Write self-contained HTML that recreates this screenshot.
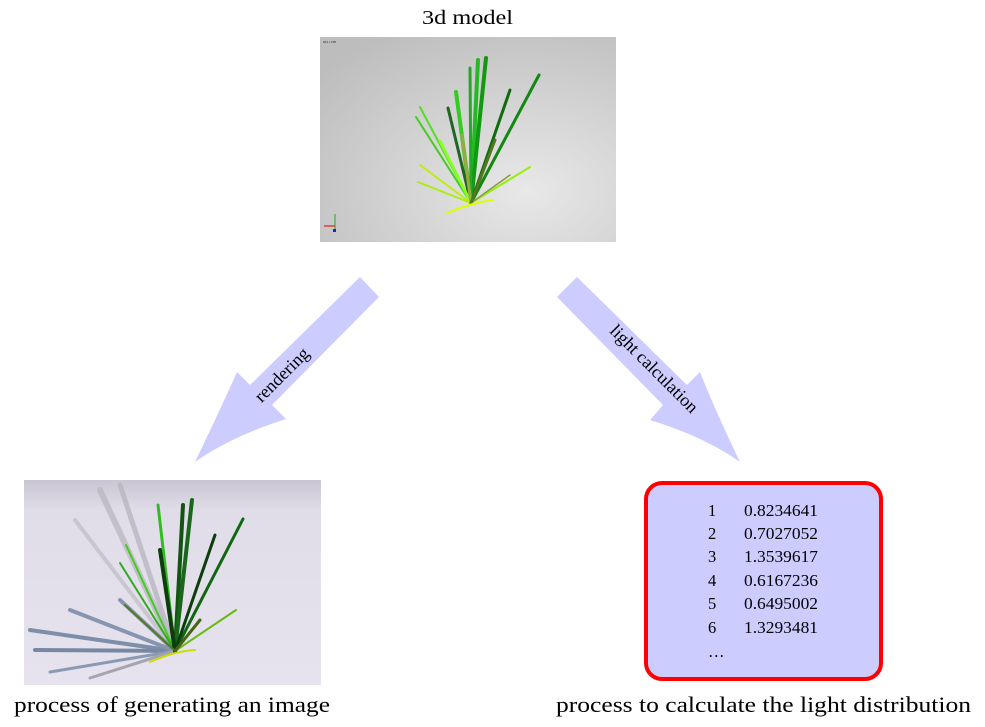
<!DOCTYPE html>
<html><head><meta charset="utf-8"><style>
html,body{margin:0;padding:0;background:#fff;}
svg{display:block;font-family:"Liberation Serif",serif;}
</style></head><body>
<svg width="985" height="727" viewBox="0 0 985 727" xmlns="http://www.w3.org/2000/svg">
<defs>
<radialGradient id="g1" cx="0.7" cy="0.75" r="0.9">
<stop offset="0" stop-color="#e8e8e8"/><stop offset="1" stop-color="#bdbdbd"/></radialGradient>
<linearGradient id="g2" x1="0" y1="0" x2="0" y2="1">
<stop offset="0" stop-color="#c9c6d3"/><stop offset="0.15" stop-color="#e0dde8"/><stop offset="1" stop-color="#e6e3ef"/></linearGradient>
</defs>
<text x="422" y="24" font-size="20" textLength="91" lengthAdjust="spacingAndGlyphs">3d model</text>
<!-- 3d model image -->
<rect x="320" y="37" width="296" height="205" fill="url(#g1)"/>
<text x="323" y="43" font-size="3" fill="#333" font-family="Liberation Sans">963 x 685</text>
<g stroke-linecap="round" fill="none">
<path d="M471 203 L456 92" stroke="#33cc22" stroke-width="4"/>
<path d="M471 203 L478 60" stroke="#22bb22" stroke-width="4"/>
<path d="M471 203 L486 58" stroke="#119911" stroke-width="4"/>
<path d="M471 203 L470 68" stroke="#22aa22" stroke-width="3"/>
<path d="M471 203 L539 75" stroke="#118811" stroke-width="3"/>
<path d="M471 203 L510 90" stroke="#0d6d0d" stroke-width="3"/>
<path d="M471 203 L420 107" stroke="#55dd22" stroke-width="2"/>
<path d="M471 203 L416 117" stroke="#44cc22" stroke-width="2"/>
<path d="M471 203 L448 108" stroke="#226622" stroke-width="3"/>
<path d="M471 203 L440 141" stroke="#88ff22" stroke-width="3"/>
<path d="M471 203 L420 165" stroke="#bbee11" stroke-width="2"/>
<path d="M471 203 L418 182" stroke="#aaee11" stroke-width="2"/>
<path d="M471 203 L530 167" stroke="#99ee11" stroke-width="2"/>
<path d="M471 203 L510 175" stroke="#889944" stroke-width="1.5"/>
<path d="M471 203 L462 135" stroke="#99aa44" stroke-width="3"/>
<path d="M471 203 L495 140" stroke="#557722" stroke-width="3"/>
<path d="M447 213 Q470 203 493 200" stroke="#ddff00" stroke-width="2"/>
</g>
<path d="M328 226 L335 226 M335 226 L335 214 M335 226 L335 232" stroke="#22aa22" stroke-width="1"/>
<path d="M324 226 L335 226" stroke="#dd2222" stroke-width="1.2"/>
<rect x="333" y="229" width="3" height="3" fill="#2222cc"/>
<!-- rendered image -->
<rect x="24" y="480" width="297" height="205" fill="url(#g2)"/>
<g stroke-linecap="round" fill="none">
<path d="M175 651 L100 490" stroke="#bbb8c2" stroke-width="6" opacity="0.8"/>
<path d="M175 651 L75 520" stroke="#c2bfc9" stroke-width="4" opacity="0.8"/>
<path d="M175 651 L120 485" stroke="#b8b5c0" stroke-width="5" opacity="0.8"/>
<path d="M175 651 L30 630" stroke="#7e8ea8" stroke-width="4"/>
<path d="M175 651 L35 650" stroke="#7888a3" stroke-width="4"/>
<path d="M175 651 L70 610" stroke="#8696b0" stroke-width="4"/>
<path d="M175 651 L120 600" stroke="#8696b0" stroke-width="4"/>
<path d="M175 651 L50 672" stroke="#8b9ab2" stroke-width="3"/>
<path d="M175 651 L90 678" stroke="#a6a4b0" stroke-width="3"/>
<path d="M175 651 L158 505" stroke="#33bb22" stroke-width="3"/>
<path d="M175 651 L183 505" stroke="#115511" stroke-width="4"/>
<path d="M175 651 L192 500" stroke="#1a661a" stroke-width="4"/>
<path d="M175 651 L243 519" stroke="#116611" stroke-width="3"/>
<path d="M175 651 L215 535" stroke="#0d3d0d" stroke-width="3"/>
<path d="M175 651 L126 545" stroke="#44cc22" stroke-width="2"/>
<path d="M175 651 L120 563" stroke="#33aa22" stroke-width="2"/>
<path d="M175 651 L160 550" stroke="#0d3d0d" stroke-width="4"/>
<path d="M175 651 L125 605" stroke="#557722" stroke-width="2"/>
<path d="M175 651 L236 610" stroke="#66bb11" stroke-width="2"/>
<path d="M175 651 L200 620" stroke="#446611" stroke-width="3"/>
<path d="M150 662 Q175 651 195 650" stroke="#ccdd00" stroke-width="2"/>
</g>
<!-- arrows -->
<path d="M360 277 L379 297 L272 405 L286 419 Q230 437 195 462 Q220 410 237 372 L250 385 Z" fill="#ccccff"/>
<path d="M577 277 L557 297 L663 405 L650 420 Q705 437 740 462 Q715 410 700 372 L687 385 Z" fill="#ccccff"/>
<text transform="translate(283,376) rotate(-45)" font-size="18" text-anchor="middle" dominant-baseline="middle">rendering</text>
<text transform="translate(653,370) rotate(45)" font-size="18" text-anchor="middle" dominant-baseline="middle">light calculation</text>
<!-- box -->
<rect x="646" y="483" width="235" height="196" rx="16" fill="#ccccff" stroke="#ff0000" stroke-width="4"/>
<g font-size="16.5">
<text x="708" y="516">1</text><text x="744" y="516" textLength="74" lengthAdjust="spacingAndGlyphs">0.8234641</text>
<text x="708" y="539">2</text><text x="744" y="539" textLength="74" lengthAdjust="spacingAndGlyphs">0.7027052</text>
<text x="708" y="562">3</text><text x="744" y="562" textLength="74" lengthAdjust="spacingAndGlyphs">1.3539617</text>
<text x="708" y="586">4</text><text x="744" y="586" textLength="74" lengthAdjust="spacingAndGlyphs">0.6167236</text>
<text x="708" y="609">5</text><text x="744" y="609" textLength="74" lengthAdjust="spacingAndGlyphs">0.6495002</text>
<text x="708" y="633">6</text><text x="744" y="633" textLength="74" lengthAdjust="spacingAndGlyphs">1.3293481</text>
<text x="708" y="657">…</text>
</g>
<text x="14" y="712" font-size="22" textLength="316" lengthAdjust="spacingAndGlyphs">process of generating an image</text>
<text x="556" y="712" font-size="22" textLength="415" lengthAdjust="spacingAndGlyphs">process to calculate the light distribution</text>
</svg>
</body></html>
